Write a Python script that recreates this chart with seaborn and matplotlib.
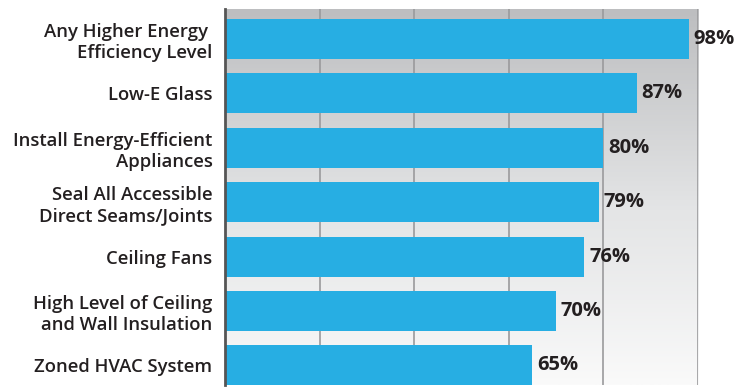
import numpy as np
import pandas as pd
import matplotlib.pyplot as plt
import seaborn as sns
from matplotlib.colors import LinearSegmentedColormap

# Data
features = [
    'Any Higher Energy \nEfficiency Level',
    'Low-E Glass',
    'Install Energy-Efficient\nAppliances',
    'Seal All Accessible\nDirect Seams/Joints',
    'Ceiling Fans',
    'High Level of Ceiling\nand Wall Insulation',
    'Zoned HVAC System',
]
percent = [98, 87, 80, 79, 76, 70, 65]

df = pd.DataFrame({'Feature': features, 'Percent': percent})

sns.set_style('white')
plt.rcParams['font.family'] = ['Open Sans', 'DejaVu Sans']

text_color = '#231f20'
bar_color = '#27aee3'

fig = plt.figure(figsize=(7.52, 3.9), dpi=100)
ax = fig.add_axes([225 / 752, 5 / 390, 473 / 752, 376 / 390])

# gradient background (grey at top, near white at bottom)
bg = LinearSegmentedColormap.from_list('bg', ['#fafafa', '#e4e5e6', '#bdbec0'])
grad = np.linspace(0, 1, 256).reshape(-1, 1) ** 0.9
ax.imshow(grad, cmap=bg, aspect='auto', extent=[0, 1, 0, 1],
          transform=ax.transAxes, origin='lower', zorder=0)

sns.barplot(data=df, x='Percent', y='Feature', color=bar_color, width=0.735,
            saturation=1, linewidth=0, edgecolor='none', ax=ax, zorder=3)

ax.set_xlim(0, 100)
ax.set_ylim(6.36, -0.55)
ax.set_xticks([0, 20, 40, 60, 80, 100])
ax.set_xticklabels([])
ax.xaxis.grid(True, color='#9a9a9c', linewidth=1.2, zorder=1)
ax.set_axisbelow(True)
ax.tick_params(axis='x', direction='out', length=6, width=1.2, color='#444444')
ax.tick_params(axis='y', length=2, width=0.8, color='#aaaaaa', pad=7)

for lab in ax.get_yticklabels():
    lab.set_fontsize(13.3)
    lab.set_fontweight('semibold')
    lab.set_color(text_color)
    lab.set_linespacing(1.2)

ax.set_xlabel('')
ax.set_ylabel('')

for s in ['top', 'right', 'bottom']:
    ax.spines[s].set_visible(False)
ax.spines['left'].set_color('#555555')
ax.spines['left'].set_linewidth(2)
ax.spines['left'].set_zorder(4)

for i, v in enumerate(percent):
    ax.text(v + 1.0, i, f'{v}%', va='center', ha='left', fontsize=14.5,
            fontweight='bold', color=text_color, clip_on=False, zorder=5)

fig.savefig('out.png', dpi=100)
